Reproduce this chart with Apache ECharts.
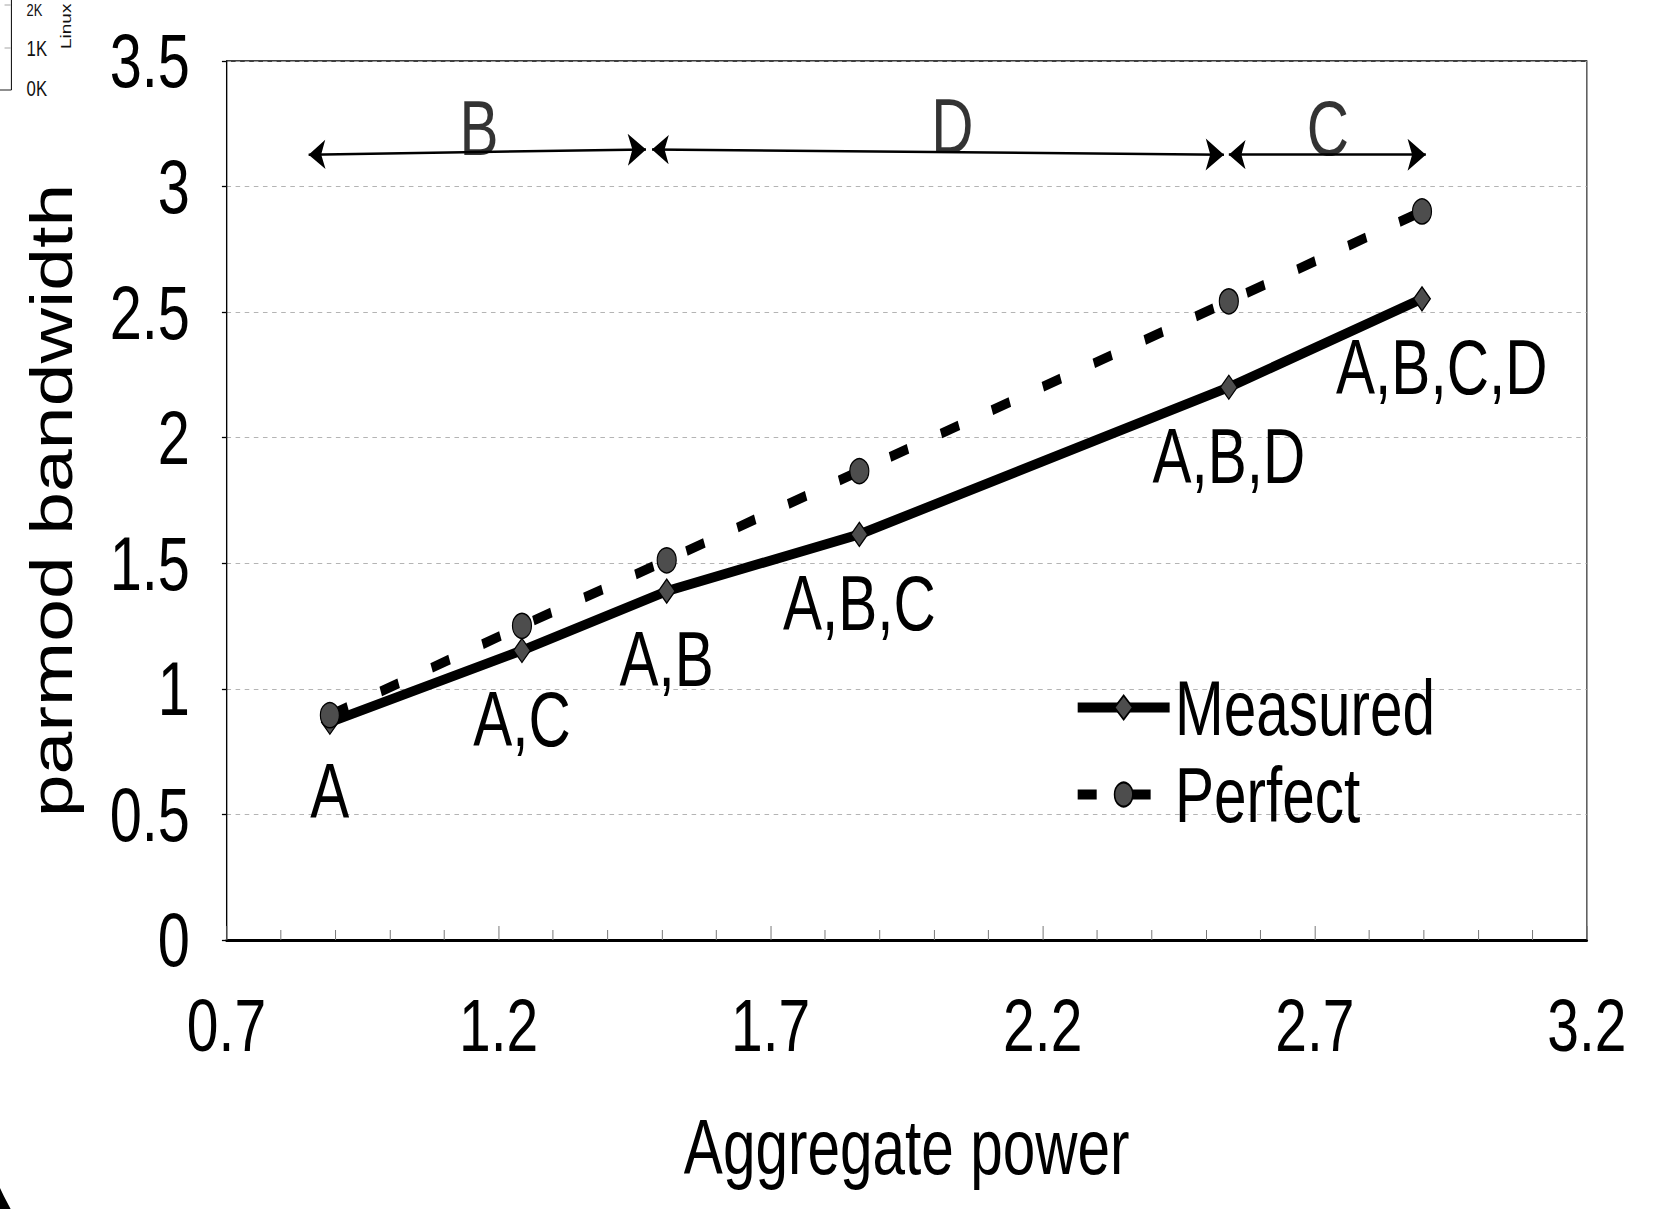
<!DOCTYPE html>
<html><head><meta charset="utf-8">
<script src="https://cdn.jsdelivr.net/npm/echarts@6/dist/echarts.min.js"></script>
<style>
html,body{margin:0;padding:0;background:#fff;overflow:hidden}
#wrap{width:1668px;height:1209px;overflow:hidden;position:relative}
#c{width:2195px;height:1209px;transform:scaleX(0.76);transform-origin:0 0;position:absolute;left:0;top:0}
</style>
</head><body><div id="wrap"><div id="c"></div></div>
<script>
// ---- data ----
const power = [0.89, 1.243, 1.509, 1.863, 2.542, 2.897];
const measured = [0.867, 1.153, 1.389, 1.615, 2.201, 2.553];
const perfect = [0.895, 1.251, 1.512, 1.867, 2.543, 2.901];
const configLabels = ['A', 'A,C', 'A,B', 'A,B,C', 'A,B,D', 'A,B,C,D'];
const xTicks = ['0.7', '1.2', '1.7', '2.2', '2.7', '3.2'];
const yTicks = ['0', '0.5', '1', '1.5', '2', '2.5', '3', '3.5'];
const rangeNames = ['B', 'D', 'C'];
const rangeStart = [0.851, 1.482, 2.542];
const rangeEnd = [1.471, 2.533, 2.904];
const rangeYStart = [3.127, 3.148, 3.127];
const rangeYEnd = [3.148, 3.127, 3.127];
const rangeLabelX = [1.164, 2.034, 2.724];
const rangeLabelY = [3.233, 3.24, 3.233];

const FONT = "'Liberation Sans', Arial, sans-serif";
const chart = echarts.init(document.getElementById('c'), null, {renderer: 'svg', width: 2195, height: 1209});

const option = {
  backgroundColor: '#fff',
  animation: false,
  grid: {left: 298, right: 107, top: 61, bottom: 269, show: true, borderColor: '#000', borderWidth: 1.3, containLabel: false},
  xAxis: {
    type: 'value', min: 0.7, max: 3.2, interval: 0.5,
    axisLine: {show: true, onZero: false, lineStyle: {color: '#000', width: 3}},
    axisTick: {show: true, inside: true, length: 14, lineStyle: {color: '#777', width: 1.3}},
    minorTick: {show: true, splitNumber: 5, length: 10, lineStyle: {color: '#777', width: 1.3}},
    splitLine: {show: false},
    axisLabel: {
      fontSize: 75, fontFamily: FONT, color: '#000', margin: 48,
      formatter: function (v) { const i = Math.round((v - 0.7) / 0.5); return xTicks[i] !== undefined ? xTicks[i] : ''; }
    },
    name: 'Aggregate power', nameLocation: 'middle', nameGap: 168,
    nameTextStyle: {fontSize: 77, fontFamily: FONT, color: '#000'}
  },
  yAxis: {
    type: 'value', min: 0, max: 3.5, interval: 0.5,
    axisLine: {show: true, onZero: false, lineStyle: {color: '#000', width: 1.3}},
    axisTick: {show: true, inside: false, length: 6, lineStyle: {color: '#000', width: 1.3}},
    splitLine: {show: true, lineStyle: {color: '#aaa', width: 1, type: [6, 6]}},
    axisLabel: {
      fontSize: 76, fontFamily: FONT, color: '#000', margin: 48, padding: [0, 0, 14, 0],
      formatter: function (v) { const i = Math.round(v / 0.5); return yTicks[i] !== undefined ? yTicks[i] : ''; }
    },
    name: 'parmod bandwidth', nameLocation: 'middle', nameGap: 192, nameRotate: 90,
    nameTextStyle: {fontSize: 77, fontFamily: FONT, color: '#000'}
  },
  legend: {
    show: true, orient: 'vertical', left: 1408, top: 664,
    itemWidth: 121, itemHeight: 30, itemGap: 10,
    lineStyle: {width: 10},
    textStyle: {fontSize: 77, fontFamily: FONT, color: '#000', padding: [0, 0, 0, 2]},
    data: ['Measured', 'Perfect']
  },
  series: [
    {
      name: 'Measured', type: 'line', z: 3,
      data: power.map((x, i) => ({
        value: [x, measured[i]],
        label: i === power.length - 1 ? {offset: [26, 0]} : {}
      })),
      symbol: 'diamond', symbolSize: [22, 24],
      lineStyle: {color: '#000', width: 10},
      itemStyle: {color: '#4d4d4d', borderColor: '#000', borderWidth: 1.5},
      label: {
        show: true, position: 'bottom', distance: 17,
        fontSize: 77, fontFamily: FONT, color: '#000',
        formatter: (p) => configLabels[p.dataIndex]
      },
      emphasis: {disabled: true}
    },
    {
      name: 'Perfect', type: 'line', z: 4,
      data: power.map((x, i) => [x, perfect[i]]),
      symbol: 'circle', symbolSize: [25, 25],
      lineStyle: {color: '#000', width: 10, type: [25, 46], cap: 'butt'},
      itemStyle: {color: '#4d4d4d', borderColor: '#000', borderWidth: 1.5},
      emphasis: {disabled: true}
    },
    {
      name: 'ranges', type: 'lines', coordinateSystem: 'cartesian2d', z: 5,
      symbol: ['arrow', 'arrow'], symbolSize: [22, 24],
      lineStyle: {color: '#000', width: 2.5, opacity: 1},
      data: rangeStart.map((s, i) => ({coords: [[s, rangeYStart[i]], [rangeEnd[i], rangeYEnd[i]]]})),
      emphasis: {disabled: true}
    },
    {
      name: 'rangeLabels', type: 'scatter', z: 6,
      symbolSize: 1, itemStyle: {color: 'transparent'},
      data: rangeLabelX.map((x, i) => ({value: [x, rangeLabelY[i]], name: rangeNames[i]})),
      label: {show: true, position: 'inside', formatter: '{b}', fontSize: 77, fontFamily: FONT, color: '#000'},
      emphasis: {disabled: true}
    }
  ],
  graphic: [
    {type: 'line', shape: {x1: 15, y1: 0, x2: 15, y2: 90}, style: {stroke: '#000', lineWidth: 1.3}},
    {type: 'line', shape: {x1: 0, y1: 90, x2: 15, y2: 90}, style: {stroke: '#000', lineWidth: 1}},
    {type: 'line', shape: {x1: 6, y1: 5, x2: 14, y2: 5}, style: {stroke: '#999', lineWidth: 1}},
    {type: 'line', shape: {x1: 6, y1: 48, x2: 14, y2: 48}, style: {stroke: '#999', lineWidth: 1}},
    {type: 'text', x: 35, y: 1, style: {text: '2K', fontSize: 17, fontFamily: FONT, fill: '#111'}},
    {type: 'text', x: 35, y: 37, style: {text: '1K', fontSize: 22, fontFamily: FONT, fill: '#111'}},
    {type: 'text', x: 35, y: 77, style: {text: '0K', fontSize: 22, fontFamily: FONT, fill: '#111'}},
    {type: 'text', x: 78, y: 49, rotation: Math.PI / 2, style: {text: 'Linux', fontSize: 19, fontFamily: FONT, fill: '#111'}},
    {type: 'polygon', shape: {points: [[0, 1188], [5, 1196], [14, 1209], [0, 1209]]}, style: {fill: '#000'}}
  ]
};
chart.setOption(option);
</script>
</body></html>
